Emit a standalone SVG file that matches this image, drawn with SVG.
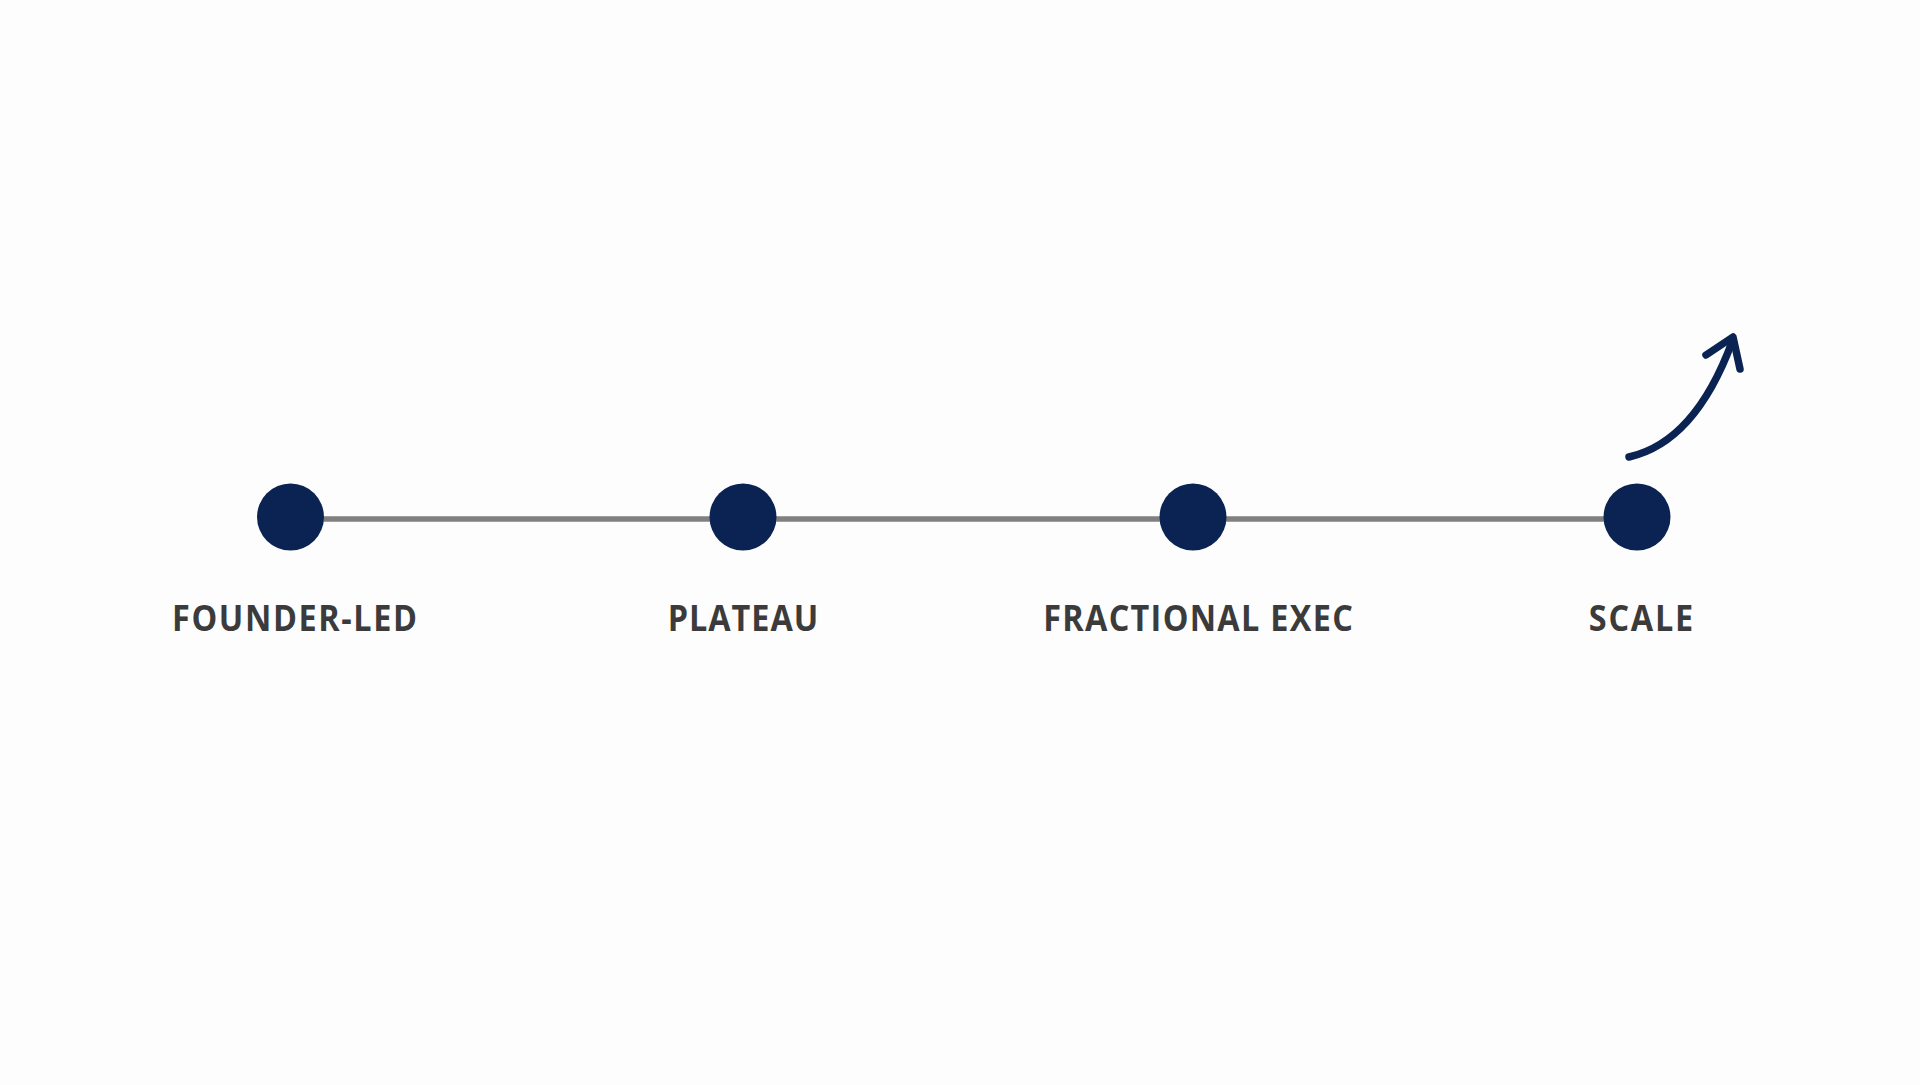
<svg xmlns="http://www.w3.org/2000/svg" width="1920" height="1085" viewBox="0 0 1920 1085">
  <style>
    .dot { fill: #0b2352; }
    .link { stroke: #808080; stroke-width: 5.5; fill: none; }
    .label { font-family: "Open Sans", "Noto Sans", "Liberation Sans", sans-serif; font-weight: 700; font-size: 36px; fill: #3b3b3b; text-anchor: middle; }
    .trend { stroke: #0b2352; stroke-width: 7.5; fill: none; stroke-linecap: round; stroke-linejoin: round; }
  </style>
  <rect width="1920" height="1085" fill="#fdfdfd"/>
  <g id="connectors">
    <line class="link" x1="290" y1="519" x2="743" y2="519"/>
    <line class="link" x1="743" y1="519" x2="1193" y2="519"/>
    <line class="link" x1="1193" y1="519" x2="1637" y2="519"/>
  </g>
  <g id="node-founder-led">
    <circle class="dot" cx="290.5" cy="517" r="33.5"/>
    <text class="label" transform="translate(294.5,631) scale(0.9,1)" textLength="272" lengthAdjust="spacing">FOUNDER-LED</text>
  </g>
  <g id="node-plateau">
    <circle class="dot" cx="743" cy="517" r="33.5"/>
    <text class="label" transform="translate(743,631) scale(0.9,1)" textLength="167" lengthAdjust="spacing">PLATEAU</text>
  </g>
  <g id="node-fractional-exec">
    <circle class="dot" cx="1193" cy="517" r="33.5"/>
    <text class="label" transform="translate(1198,631) scale(0.9,1)" textLength="344" lengthAdjust="spacing">FRACTIONAL EXEC</text>
  </g>
  <g id="node-scale">
    <circle class="dot" cx="1637" cy="517" r="33.5"/>
    <text class="label" transform="translate(1641,631) scale(0.9,1)" textLength="116" lengthAdjust="spacing">SCALE</text>
  </g>
  <g id="growth-arrow">
    <path class="trend" d="M1629,457 Q1695,442 1732,342"/>
    <path class="trend" d="M1706,355 L1733,337 L1740,369"/>
  </g>
</svg>
